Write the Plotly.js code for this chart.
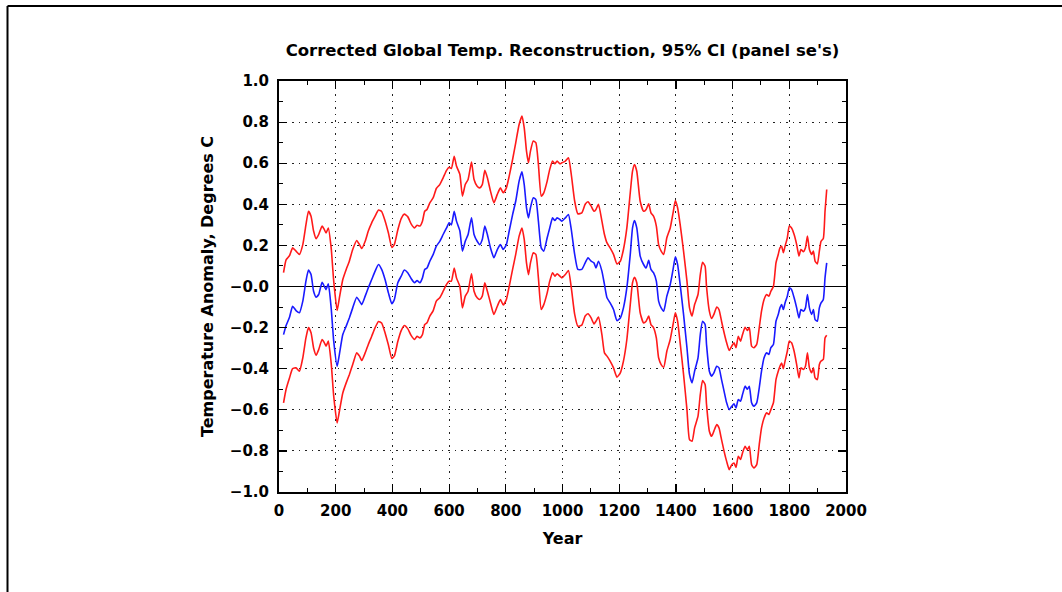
<!DOCTYPE html>
<html>
<head>
<meta charset="utf-8">
<script src="https://cdn.plot.ly/plotly-3.0.1.min.js"></script>
<style>
  html, body { margin: 0; padding: 0; background: #ffffff; }
  #chart { width: 1062px; height: 592px; }
</style>
</head>
<body>
<div id="chart"></div>
<script>
// ---- Data ----
const years = [
  16, 25, 37, 48, 60, 72, 84, 95, 104, 113, 122, 131, 140, 152, 160, 166, 174, 184, 193, 205,
  213, 225, 237, 248, 260, 274, 284, 292, 304, 315, 327, 339, 351, 362, 374, 386, 398, 407, 419, 431,
  442, 454, 466, 478, 487,
  497, 506, 514, 522, 532, 544, 555, 567, 579, 591, 600, 608, 618, 626, 638, 647, 657, 667, 679, 688,
  699, 708, 717, 726, 735, 746, 758, 770, 781, 791, 802, 812, 824, 835, 847, 857, 865, 873, 880, 887,
  897, 906, 915, 925, 934, 946, 955, 965, 973, 981, 991,
  998, 1010, 1021, 1031, 1043, 1054, 1068, 1080, 1090, 1101, 1111, 1118, 1127, 1139, 1148, 1157, 1168, 1180, 1192, 1204,
  1215, 1227, 1239, 1247, 1254, 1262, 1274, 1286, 1295, 1304, 1312, 1321, 1331, 1339, 1348, 1357, 1368, 1380, 1390, 1398,
  1406, 1415, 1427, 1439, 1448, 1457, 1466, 1478, 1486,
  1494, 1503, 1508, 1518, 1526, 1534, 1544, 1552, 1561, 1570, 1579, 1588, 1597, 1605, 1612, 1620, 1628, 1635, 1644, 1652,
  1659, 1667, 1675, 1685, 1694, 1702, 1711, 1720, 1728, 1735, 1744, 1753, 1761, 1767, 1773, 1779, 1785, 1793, 1800, 1808,
  1817, 1826, 1834, 1841, 1850, 1857, 1864, 1871, 1879, 1885, 1891, 1899, 1906, 1912, 1920, 1926, 1932
];

const central = [
  -0.234, -0.19, -0.15, -0.096, -0.117, -0.128, -0.071, 0.026, 0.08, 0.058, -0.023, -0.052, -0.039, 0.021, 0.0, -0.015, 0.013, -0.104, -0.266, -0.388,
  -0.33, -0.234, -0.193, -0.153, -0.104, -0.052, -0.071, -0.088, -0.047, -0.006, 0.034, 0.075, 0.107, 0.083, 0.034, -0.031, -0.084, -0.063, 0.018, 0.05,
  0.08, 0.067, 0.039, 0.018, 0.029,
  0.018, 0.042, 0.083, 0.09, 0.123, 0.156, 0.196, 0.22, 0.253, 0.285, 0.31, 0.30, 0.366, 0.318, 0.27, 0.172, 0.22, 0.253, 0.334, 0.253,
  0.22, 0.204, 0.229, 0.294, 0.253, 0.188, 0.14, 0.18, 0.204, 0.18, 0.204, 0.27, 0.35, 0.415, 0.513, 0.558, 0.496, 0.383, 0.334, 0.383,
  0.432, 0.423, 0.318, 0.188, 0.172, 0.237, 0.285, 0.334, 0.321, 0.334, 0.326,
  0.318, 0.334, 0.35, 0.277, 0.156, 0.083, 0.083, 0.115, 0.14, 0.123, 0.115, 0.09, 0.123, 0.075, 0.01, -0.055, -0.08, -0.112, -0.166, -0.153,
  -0.104, -0.006, 0.156, 0.285, 0.321, 0.285, 0.148, 0.107, 0.09, 0.127, 0.083, 0.067, 0.026, -0.071, -0.104, -0.12, -0.047, 0.01, 0.083, 0.144,
  0.107, 0.01, -0.136, -0.298, -0.428, -0.469, -0.412, -0.347, -0.234,
  -0.169, -0.185, -0.282, -0.412, -0.436, -0.42, -0.388, -0.396, -0.453, -0.51, -0.566, -0.599, -0.583, -0.571, -0.591, -0.55, -0.558, -0.526, -0.485, -0.50,
  -0.485, -0.566, -0.583, -0.566, -0.493, -0.412, -0.347, -0.323, -0.331, -0.298, -0.282, -0.169, -0.136, -0.104, -0.088, -0.112, -0.08, -0.047, -0.006, -0.015,
  -0.055, -0.104, -0.153, -0.112, -0.12, -0.104, -0.039, -0.104, -0.136, -0.112, -0.161, -0.169, -0.104, -0.08, -0.063, 0.042, 0.115
];

const upper95 = [
  0.067, 0.13, 0.15, 0.188, 0.172, 0.156, 0.204, 0.30, 0.366, 0.342, 0.27, 0.232, 0.253, 0.294, 0.277, 0.26, 0.285, 0.188, 0.026, -0.117,
  -0.055, 0.034, 0.083, 0.123, 0.18, 0.224, 0.204, 0.185, 0.22, 0.27, 0.31, 0.342, 0.372, 0.365, 0.32, 0.26, 0.19, 0.205, 0.275, 0.33,
  0.352, 0.34, 0.305, 0.285, 0.298,
  0.294, 0.318, 0.366, 0.375, 0.407, 0.432, 0.477, 0.496, 0.529, 0.565, 0.58, 0.574, 0.634, 0.586, 0.545, 0.44, 0.496, 0.521, 0.605, 0.521,
  0.488, 0.48, 0.496, 0.565, 0.529, 0.464, 0.407, 0.448, 0.48, 0.456, 0.48, 0.537, 0.618, 0.699, 0.788, 0.829, 0.772, 0.659, 0.602, 0.659,
  0.708, 0.70, 0.594, 0.44, 0.456, 0.513, 0.57, 0.61, 0.597, 0.61, 0.597,
  0.602, 0.61, 0.626, 0.545, 0.415, 0.354, 0.358, 0.40, 0.412, 0.391, 0.366, 0.375, 0.40, 0.318, 0.253, 0.212, 0.188, 0.156, 0.11, 0.123,
  0.18, 0.285, 0.456, 0.561, 0.594, 0.561, 0.415, 0.366, 0.375, 0.402, 0.358, 0.342, 0.294, 0.204, 0.172, 0.156, 0.237, 0.285, 0.358, 0.418,
  0.383, 0.302, 0.172, 0.026, -0.104, -0.144, -0.088, -0.039, 0.058,
  0.118, 0.099, 0.0, -0.12, -0.156, -0.136, -0.10, -0.112, -0.169, -0.225, -0.274, -0.311, -0.29, -0.274, -0.298, -0.242, -0.266, -0.234, -0.198, -0.214,
  -0.20, -0.29, -0.298, -0.282, -0.20, -0.12, -0.063, -0.039, -0.047, -0.023, 0.0, 0.115, 0.156, 0.188, 0.196, 0.164, 0.196, 0.237, 0.294, 0.285,
  0.253, 0.204, 0.148, 0.18, 0.169, 0.188, 0.245, 0.18, 0.156, 0.172, 0.123, 0.11, 0.172, 0.22, 0.234, 0.366, 0.472
];

const lower95 = [
  -0.566, -0.50, -0.445, -0.40, -0.396, -0.412, -0.347, -0.25, -0.20, -0.225, -0.299, -0.334, -0.307, -0.258, -0.274, -0.29, -0.266, -0.372, -0.534, -0.664,
  -0.607, -0.518, -0.469, -0.429, -0.38, -0.323, -0.339, -0.36, -0.323, -0.282, -0.242, -0.20, -0.17, -0.178, -0.225, -0.285, -0.35, -0.338, -0.268, -0.215,
  -0.19, -0.205, -0.238, -0.258, -0.242,
  -0.25, -0.234, -0.185, -0.177, -0.144, -0.117, -0.071, -0.055, -0.023, 0.01, 0.026, 0.026, 0.09, 0.042, 0.0, -0.104, -0.047, -0.023, 0.062, -0.023,
  -0.055, -0.063, -0.047, 0.018, -0.023, -0.08, -0.136, -0.096, -0.063, -0.09, -0.063, 0.0, 0.083, 0.156, 0.245, 0.285, 0.229, 0.115, 0.058, 0.115,
  0.164, 0.156, 0.042, -0.112, -0.088, -0.031, 0.026, 0.067, 0.05, 0.062, 0.05,
  0.042, 0.058, 0.078, -0.006, -0.136, -0.193, -0.188, -0.144, -0.133, -0.153, -0.182, -0.169, -0.149, -0.234, -0.323, -0.339, -0.363, -0.396, -0.441, -0.42,
  -0.363, -0.258, -0.088, 0.018, 0.045, 0.018, -0.128, -0.177, -0.169, -0.144, -0.185, -0.20, -0.25, -0.347, -0.38, -0.393, -0.315, -0.258, -0.185, -0.128,
  -0.169, -0.274, -0.428, -0.599, -0.745, -0.753, -0.688, -0.631, -0.526,
  -0.458, -0.477, -0.574, -0.704, -0.729, -0.704, -0.672, -0.688, -0.745, -0.802, -0.851, -0.891, -0.867, -0.859, -0.88, -0.826, -0.842, -0.81, -0.778, -0.794,
  -0.778, -0.867, -0.883, -0.867, -0.769, -0.688, -0.64, -0.615, -0.623, -0.599, -0.566, -0.453, -0.412, -0.388, -0.372, -0.40, -0.363, -0.315, -0.266, -0.274,
  -0.315, -0.38, -0.445, -0.396, -0.404, -0.388, -0.323, -0.396, -0.42, -0.396, -0.445, -0.453, -0.38, -0.363, -0.355, -0.25, -0.237
];

const xTickVals = [0, 200, 400, 600, 800, 1000, 1200, 1400, 1600, 1800, 2000];
const xTickText = ['0', '200', '400', '600', '800', '1000', '1200', '1400', '1600', '1800', '2000'];
const yTickVals = [-1.0, -0.8, -0.6, -0.4, -0.2, 0.0, 0.2, 0.4, 0.6, 0.8, 1.0];
const yTickText = ['\u22121.0', '\u22120.8', '\u22120.6', '\u22120.4', '\u22120.2', '\u22120.0', '0.2', '0.4', '0.6', '0.8', '1.0'];

const titleText = "Corrected Global Temp. Reconstruction, 95% CI (panel se's)";
const xTitle = 'Year';
const yTitle = 'Temperature Anomaly, Degrees C';

// ---- Chart ----
const FONT = 'DejaVu Sans, Verdana, sans-serif';
const lineW = 1.6;

const traces = [
  { x: years, y: upper95, mode: 'lines', type: 'scatter', name: 'upper 95%',
    line: { color: '#ff1a1a', width: lineW, shape: 'spline', smoothing: 0.5 }, hoverinfo: 'skip' },
  { x: years, y: lower95, mode: 'lines', type: 'scatter', name: 'lower 95%',
    line: { color: '#ff1a1a', width: lineW, shape: 'spline', smoothing: 0.5 }, hoverinfo: 'skip' },
  { x: years, y: central, mode: 'lines', type: 'scatter', name: 'reconstruction',
    line: { color: '#1a1aff', width: lineW, shape: 'spline', smoothing: 0.5 }, hoverinfo: 'skip' }
];

const axisCommon = {
  showline: true, linecolor: '#000', linewidth: 2, mirror: 'ticks',
  ticks: 'inside', ticklen: 8, tickwidth: 1.2, tickcolor: '#000',
  showgrid: true, gridcolor: '#222', gridwidth: 1, griddash: '1.5px,5px',
  tickfont: { family: FONT, size: 15, color: '#000', weight: 'bold' },
  fixedrange: true
};

const layout = {
  width: 1062, height: 592,
  margin: { l: 279, r: 216, t: 81, b: 100, pad: 0 },
  paper_bgcolor: '#ffffff', plot_bgcolor: '#ffffff',
  showlegend: false,
  font: { family: FONT, color: '#000' },
  title: {
    text: titleText,
    font: { family: FONT, size: 16.5, color: '#000', weight: 'bold' },
    x: 0.5, xref: 'paper', xanchor: 'center',
    y: 1 - 50 / 592, yref: 'container', yanchor: 'middle'
  },
  xaxis: Object.assign({}, axisCommon, {
    range: [0, 2000],
    tickmode: 'array', tickvals: xTickVals, ticktext: xTickText,
    minor: { dtick: 100, tick0: 0, ticks: 'inside', ticklen: 4, tickwidth: 1, tickcolor: '#000', showgrid: false },
    zeroline: false,
    ticklabelstandoff: 4,
    title: { text: xTitle, font: { family: FONT, size: 16, color: '#000', weight: 'bold' }, standoff: 14 }
  }),
  yaxis: Object.assign({}, axisCommon, {
    range: [-1.0, 1.0],
    tickmode: 'array', tickvals: yTickVals, ticktext: yTickText,
    minor: { dtick: 0.1, tick0: 0, ticks: 'inside', ticklen: 4, tickwidth: 1, tickcolor: '#000', showgrid: false },
    zeroline: true, zerolinecolor: '#000', zerolinewidth: 1.5,
    ticklabelstandoff: 5,
    title: { text: yTitle, font: { family: FONT, size: 16, color: '#000', weight: 'bold' }, standoff: 12 }
  }),
  shapes: [
    { type: 'line', xref: 'paper', yref: 'paper',
      x0: (7.5 - 279) / 567, x1: 2, y0: (492 - 6) / 411, y1: (492 - 6) / 411,
      line: { color: '#000', width: 2 } },
    { type: 'line', xref: 'paper', yref: 'paper',
      x0: (7.5 - 279) / 567, x1: (7.5 - 279) / 567, y0: (492 - 6) / 411, y1: -1,
      line: { color: '#000', width: 2 } }
  ]
};

Plotly.newPlot('chart', traces, layout, { staticPlot: true, displayModeBar: false });
</script>
</body>
</html>
